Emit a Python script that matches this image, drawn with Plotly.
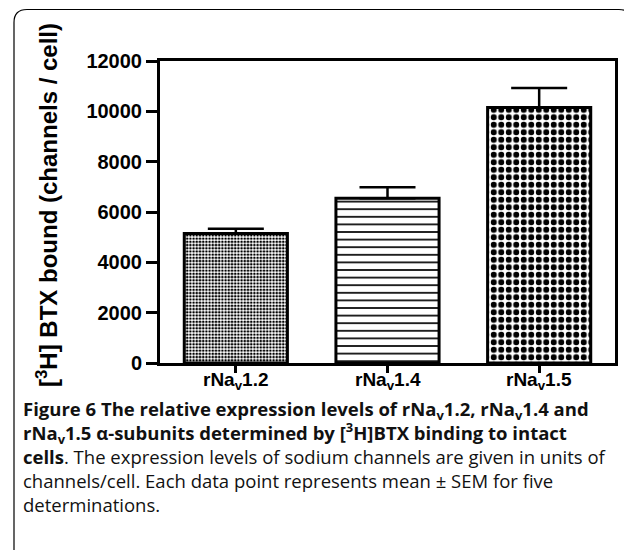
import plotly.graph_objects as go

categories = ["rNa<sub>v</sub>1.2", "rNa<sub>v</sub>1.4", "rNa<sub>v</sub>1.5"]
means = [5150, 6550, 10150]
upper = [5330, 6980, 10930]
y_ticks = [0, 2000, 4000, 6000, 8000, 10000, 12000]

errs = [u - m for u, m in zip(upper, means)]

OFF = 8  # page body margin offset
W, H = 632 - OFF, 550 - OFF
# plot area in reference pixels
L, R, T, B = 160, 615, 61, 363

def px(xp):
    return (xp - L) / (R - L)

def py(yp):
    return (B - yp) / (B - T)

fig = go.Figure()
patterns = [
    dict(shape=".", size=3.2, solidity=0.5, fgcolor="black", bgcolor="white", fillmode="replace"),
    dict(shape="-", size=7.6, solidity=0.22, fgcolor="black", bgcolor="white", fillmode="replace"),
    dict(shape=".", size=7.5, solidity=0.5, fgcolor="black", bgcolor="white", fillmode="replace"),
]
for i, c in enumerate(categories):
    fig.add_trace(go.Bar(
        x=[c], y=[means[i]],
        width=0.68,
        marker=dict(color="white", line=dict(color="black", width=3), pattern=patterns[i]),
        error_y=dict(type="data", array=[errs[i]], arrayminus=[0], symmetric=False,
                     color="black", thickness=2.5, width=28),
        showlegend=False,
    ))

axfont = dict(size=20, weight="bold", family="Liberation Sans, Arial, sans-serif", color="black")
fig.update_layout(
    width=W, height=H,
    margin=dict(l=L - OFF, r=W - (R - OFF), t=T - OFF, b=H - (B - OFF), pad=0),
    paper_bgcolor="white", plot_bgcolor="white",
    font=dict(family="Liberation Sans, Arial, sans-serif", color="black"),
    xaxis=dict(
        type="category", categoryorder="array", categoryarray=categories,
        showline=True, linecolor="black", linewidth=3, mirror=True,
        ticks="outside", ticklen=7, tickwidth=3, tickcolor="black",
        showticklabels=False,
        showgrid=False, zeroline=False,
    ),
    yaxis=dict(
        range=[0, 12000], tickvals=y_ticks, ticktext=[str(v) for v in y_ticks],
        showline=True, linecolor="black", linewidth=3, mirror=True,
        ticks="outside", ticklen=11, tickwidth=3, tickcolor="black",
        tickfont=axfont,
        showgrid=False, zeroline=False,
    ),
)

# category labels under the x axis
for c in categories:
    fig.add_annotation(text=c, xref="x", yref="paper", x=c, y=py(381),
                       xanchor="center", yanchor="middle", showarrow=False, borderpad=0,
                       font=dict(size=19, weight="bold", family="Liberation Sans, Arial, sans-serif", color="black"))

# y-axis title
fig.add_annotation(
    text="<b>[<sup>3</sup>H] BTX bound (channels / cell)</b>",
    xref="paper", yref="paper", x=px(47), y=py(205),
    xanchor="center", yanchor="middle", textangle=-90, showarrow=False,
    font=dict(size=24, family="Liberation Sans, Arial, sans-serif", color="black"),
)

# rounded outer frame
x0, x1 = px(14), px(632)
yt, yb = py(9.5), py(550)
r_x, r_y = 13 / (R - L), 13 / (B - T)
path = (f"M {x0},{yb} L {x0},{yt - r_y} Q {x0},{yt} {x0 + r_x},{yt} "
        f"L {x1 - r_x},{yt} Q {x1},{yt} {x1},{yt - r_y}")
fig.add_shape(type="path", path=path, xref="paper", yref="paper",
              line=dict(color="black", width=1.2), layer="above")

cap_font = dict(size=18.5, family="Open Sans, Noto Sans, sans-serif", color="#111111")
lines = [
    "<b>Figure 6 The relative expression levels of rNa<sub>v</sub>1.2, rNa<sub>v</sub>1.4 and</b>",
    "<b>rNa<sub>v</sub>1.5 α-subunits determined by [<sup>3</sup>H]BTX binding to intact</b>",
    "<b>cells</b>. The expression levels of sodium channels are given in units of",
    "channels/cell. Each data point represents mean ± SEM for five",
    "determinations.",
]
fig.add_annotation(text="<br>".join(lines), xref="paper", yref="paper", x=px(22), y=py(456),
                   xanchor="left", yanchor="middle", showarrow=False, borderpad=0,
                   font=cap_font, align="left")

fig.write_html("out.html")
